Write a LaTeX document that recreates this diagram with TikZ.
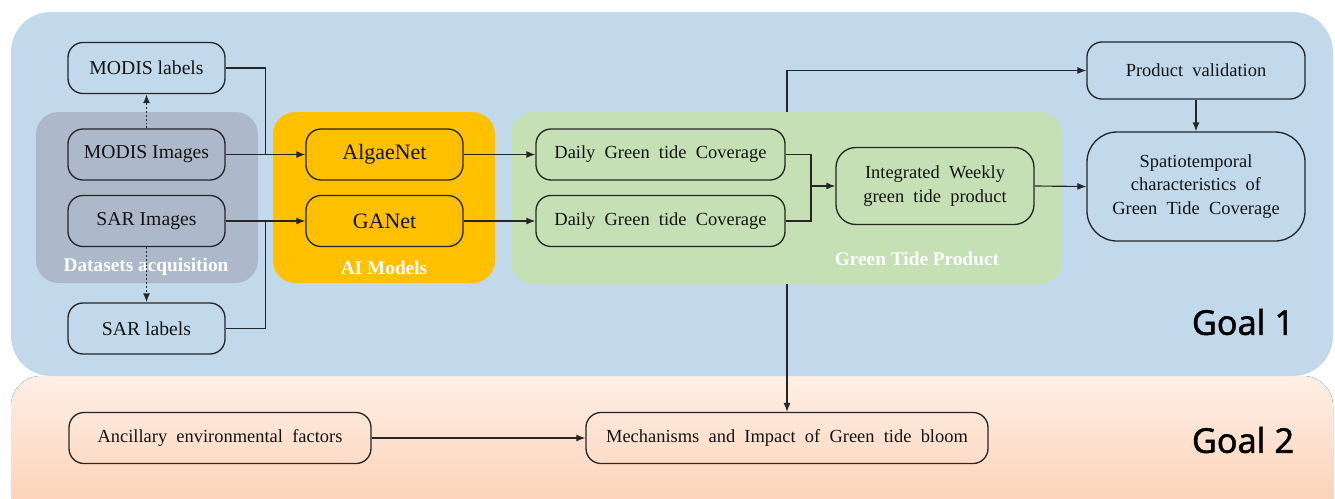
\documentclass[tikz,border=0pt]{standalone}
\usepackage{fontspec}
\setmainfont{Liberation Serif}
\newfontfamily\goalfont{Noto Sans}[FakeBold=1.2]
\usepackage{xcolor}
\definecolor{PanelBlue}{HTML}{C2D9EC}
\definecolor{PeachTop}{HTML}{FEEFE6}
\definecolor{PeachBottom}{HTML}{FCD4B9}
\definecolor{DataGray}{HTML}{ADB9CA}
\definecolor{ModelGold}{HTML}{FFC000}
\definecolor{ProductGreen}{HTML}{C5E0B4}
\definecolor{BoxBorder}{HTML}{262626}
\definecolor{TextDark}{HTML}{141414}
\usepackage{tikz}
\usetikzlibrary{arrows.meta, positioning, calc}

\begin{document}
\begin{tikzpicture}[
  x=0.2mm, y=-0.2mm,
  every node/.style={text=TextDark},
  box/.style={draw=BoxBorder, line width=0.75pt, rounded corners=3mm,
              align=center, inner sep=2pt, minimum height=1.02cm,
              font=\fontsize{10.5}{13.6}\selectfont},
  smallbox/.style={box, minimum width=3.14cm, font=\fontsize{11.2}{13.6}\selectfont},
  modelbox/.style={smallbox, font=\fontsize{12.5}{14}\selectfont},
  dailybox/.style={box, minimum width=4.98cm},
  group/.style={rounded corners=4.5mm, minimum width=4.44cm,
                minimum height=3.42cm},
  grplbl/.style={font=\fontsize{11}{12}\selectfont\bfseries, text=white},
  goal/.style={font=\goalfont\fontsize{19.5}{22}\selectfont, text=black},
  line/.style={draw=BoxBorder, line width=0.65pt},
  arr/.style={line, -{Latex[length=1.8mm,width=1.4mm]}},
  dotarr/.style={arr, line width=0.9pt, dash pattern=on 1.1pt off 1.1pt}
]

\useasboundingbox (0,0) rectangle (1335,498);
\clip (0,0) rectangle (1335,498);

% goal panels
\fill[top color=PeachTop, bottom color=PeachBottom]
  (11,500) {[rounded corners=6mm] -- (11,376) -- (1333,376)} -- (1333,500) -- cycle;
\fill[PanelBlue, rounded corners=8mm] (11,12) rectangle (1333,376);

% groups
\node[group, fill=DataGray] (dsgrp) at (147,197.5) {};
\node[group, fill=ModelGold] (aigrp) at (384,197.5) {};
\node[group, fill=ProductGreen, minimum width=11.02cm, minimum height=3.44cm]
  (gtpgrp) at (786.5,198) {};
\node[grplbl] at (146,267) {Datasets acquisition};
\node[grplbl] at (384,268) {AI Models};
\node[grplbl] at (917,259) {Green Tide Product};

\node[smallbox] (mlab) at (146.5,68) {MODIS labels};
\node[smallbox] (mimg) at (146.5,154.5) {MODIS Images};
\node[smallbox] (simg) at (146.5,221) {SAR Images};
\node[smallbox] (slab) at (146.5,328.5) {SAR labels};

\node[modelbox] (algae) at (384.5,154.5) {AlgaeNet};
\node[modelbox] (ganet) at (384.5,221) {GANet};

\node[dailybox] (daily1) at (660.5,154.5) {Daily~ Green~ tide~ Coverage};
\node[dailybox] (daily2) at (660.5,221) {Daily~ Green~ tide~ Coverage};
\node[box, minimum width=3.96cm, minimum height=1.54cm, rounded corners=4mm]
  (weekly) at (935,186) {Integrated~ Weekly\\green~ tide~ product};

\node[box, minimum width=4.36cm, minimum height=1.14cm]
  (valid) at (1196,70.5) {Product~ validation};
\node[box, minimum width=4.36cm, minimum height=2.18cm, rounded corners=6mm]
  (spatio) at (1196,186.5)
  {Spatiotemporal\\characteristics~ of\\Green~ Tide~ Coverage};

\node[box, minimum width=6.04cm] (ancil) at (220,438)
  {Ancillary~ environmental~ factors};
\node[box, minimum width=8.04cm] (mech) at (787,438)
  {Mechanisms~ and~ Impact~ of~ Green~ tide~ bloom};

\node[goal] at (1243,322) {Goal 1};
\node[goal] at (1243,440) {Goal 2};

\coordinate (wjoin) at (811,186);

\draw[dotarr] (mimg.north) -- (mlab.south);
\draw[dotarr] (simg.south) -- (slab.north);
\draw[line] (mlab.east) -| ($(mimg.east)!.5!(algae.west)$);
\draw[line] (slab.east) -| ($(simg.east)!.5!(ganet.west)$);
\draw[arr] (mimg.east) -- (algae.west);
\draw[arr] (simg.east) -- (ganet.west);
\draw[arr] (algae.east) -- (daily1.west);
\draw[arr] (ganet.east) -- (daily2.west);
\draw[line] (daily1.east) -| (wjoin);
\draw[line] (daily2.east) -| (wjoin);
\draw[arr] (wjoin) -- (weekly.west);
\draw[arr] (weekly.east) -- (spatio.west);
\draw[arr] (valid.south) -- (spatio.north);
\draw[arr] (gtpgrp.north -| mech.north) |- (valid.west);
\draw[arr] (gtpgrp.south -| mech.north) -- (mech.north);
\draw[arr] (ancil.east) -- (mech.west);

\end{tikzpicture}
\end{document}
